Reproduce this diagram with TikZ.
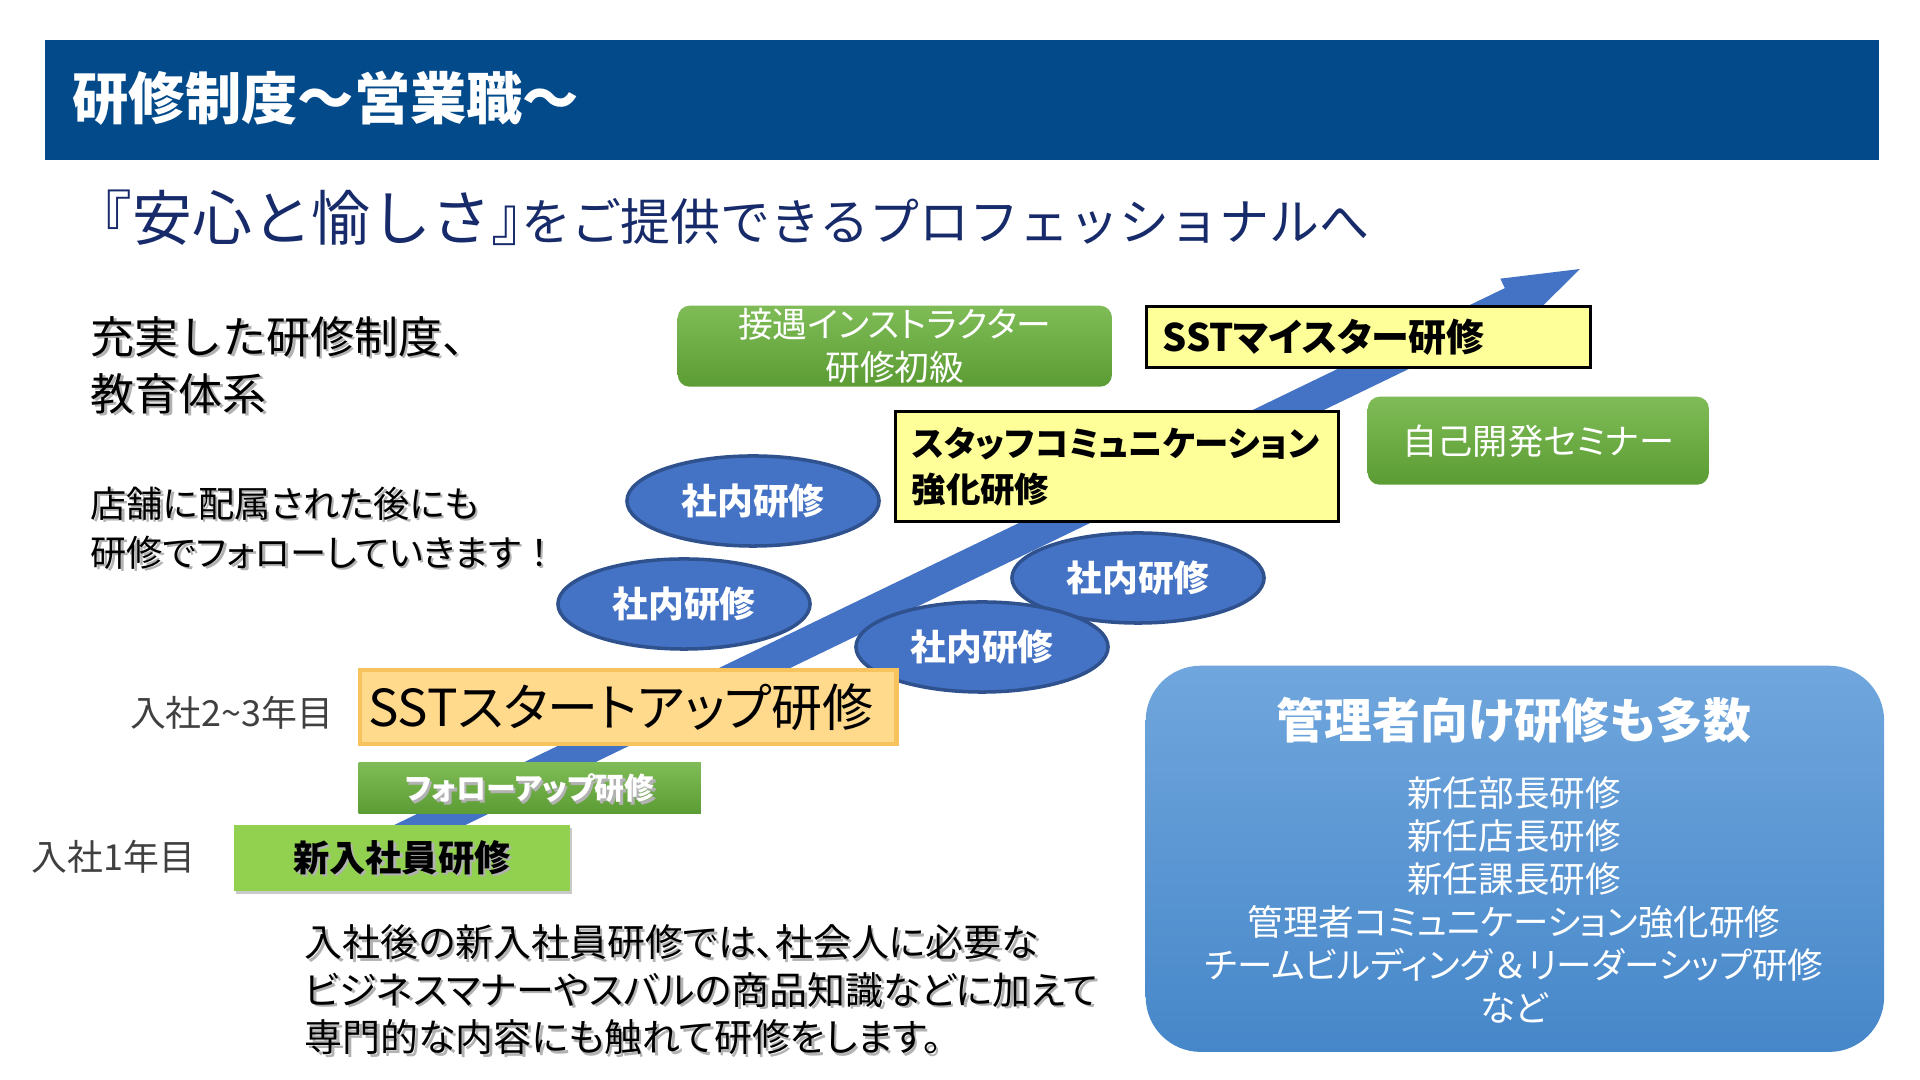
\documentclass[tikz,border=0pt]{standalone}
\usepackage{fontspec}
\setmainfont{Noto Sans CJK JP}[RawFeature=+palt]
\newfontfamily\monojp{Noto Sans CJK JP}
\usetikzlibrary{positioning,shapes.geometric,shadows}
\definecolor{bandc}{HTML}{034A8A}
\definecolor{navyc}{HTML}{172B6B}
\definecolor{arrc}{HTML}{4472C4}
\definecolor{ellc}{HTML}{4472C4}
\definecolor{elldc}{HTML}{2F528F}
\definecolor{gtopc}{HTML}{7FBC57}
\definecolor{gbotc}{HTML}{5C9C34}
\definecolor{newc}{HTML}{92D050}
\definecolor{orgc}{HTML}{FFD98C}
\definecolor{orgdc}{HTML}{F6C35C}
\definecolor{yelc}{HTML}{FFFF99}
\definecolor{mtopc}{HTML}{70A6DD}
\definecolor{mbotc}{HTML}{4687C9}
\definecolor{lblc}{HTML}{404040}
\newcommand{\fsz}[2]{\fontsize{#1}{#2}\selectfont}
\tikzset{
  txt/.style={inner sep=0pt,align=left},
  band/.style={fill=bandc,anchor=north west,inner sep=0pt},
  greenbox/.style={rounded corners=0.12cm,top color=gtopc,bottom color=gbotc,text=white,anchor=north west,inner sep=0pt,align=center},
  newbox/.style={fill=newc,anchor=north west,inner sep=0pt,drop shadow={fill=black!35,opacity=0.6,shadow xshift=0.02cm,shadow yshift=-0.03cm}},
  startbox/.style={fill=orgc,draw=orgdc,line width=1.2pt,anchor=north west,inner xsep=0.08cm,inner ysep=0pt,align=left,font=\fsz{14.5pt}{17pt}},
  ybox/.style={fill=yelc,draw=black,line width=0.9pt,anchor=north west,inner xsep=0.16cm,inner ysep=0pt,align=left,font=\bfseries\fsz{10.8pt}{13pt}},
  inhouse/.style={ellipse,draw=elldc,line width=1pt,fill=ellc,minimum width=2.52cm,minimum height=0.9cm,inner sep=0pt,text=white,font=\bfseries\fsz{10.2pt}{12pt}},
  mgrbox/.style={rounded corners=0.55cm,top color=mtopc,bottom color=mbotc,anchor=north west,inner sep=0pt},
  yearlbl/.style={txt,anchor=east,text=lblc,font=\fsz{10.2pt}{12pt}},
}
\newcommand{\shtxt}[4][]{\node[txt,#1,text=black!30,xshift=0.025cm,yshift=-0.025cm] at (#3) {#4};\node[txt,#1] (#2) at (#3) {#4};}

\begin{document}
\begin{tikzpicture}[x=0.01cm,y=-0.01cm]
  \path[use as bounding box,fill=white] (0,0) rectangle (1920,1080);
  \node[band,minimum width=18.33cm,minimum height=1.2cm] (band) at (44,39) {};
  \node[txt,anchor=west,text=white,font=\bfseries\fsz{16pt}{18pt}] (title) at (72,98) {研修制度～営業職～};
  \node[txt,anchor=base west,text=navyc] (motto) at (72,241) {\monojp\fsz{17pt}{20pt}『安心と愉しさ』\kern-0.5em\fsz{14.2pt}{17pt}をご提供できるプロフェッショナルへ};
  \shtxt[anchor=west,font=\monojp\fsz{12.5pt}{16.2pt}]{lead}{90,365}{充実した研修制度、\\教育体系}
  \shtxt[anchor=west,font=\fsz{10.3pt}{13.9pt}]{storenote}{90,528}{店舗に配属された後にも\\研修でフォローしていきます{\monojp ！}}

  \begin{scope}[shift={(1580,269)},rotate=25.8]
    \fill[arrc] (0,0) -- (-76,-26) -- (-76,-15.5) -- (-1380,-15.5) -- (-1380,15.5) -- (-76,15.5) -- (-76,26) -- cycle;
  \end{scope}

  \foreach \n/\p in {1/{753,501},2/{684,604},3/{1138,578},4/{982,647}}
    \node[inhouse] (ih\n) at (\p) {社内研修};

  \node[greenbox,minimum width=4.34cm,minimum height=0.81cm,font=\fsz{9.9pt}{12.2pt}] (instb) at (677,305) {接遇インストラクター\\研修初級};
  \node[ybox,minimum width=4.44cm,minimum height=0.61cm,text width=4.12cm] (meisb) at (1145,305) {SSTマイスター研修};
  \node[ybox,minimum width=4.43cm,minimum height=1.1cm,text width=4.11cm,font=\bfseries\fsz{9.8pt}{13pt}] (stafb) at (894,410) {スタッフコミュニケーション\\強化研修};
  \node[greenbox,minimum width=3.41cm,minimum height=0.88cm,font=\fsz{10pt}{12pt}] (selfb) at (1367,396) {自己開発セミナー};

  \node[startbox,minimum width=5.36cm,minimum height=0.74cm,text width=5.2cm] (sstb) at (358,668) {SSTスタートアップ研修};
  \node[greenbox,rounded corners=0pt,minimum width=3.42cm,minimum height=0.51cm] (folb) at (358,762) {};
  \shtxt[text=white,font=\bfseries\fsz{8.5pt}{10pt}]{folt}{folb.center}{フォローアップ研修}
  \node[newbox,minimum width=3.36cm,minimum height=0.66cm] (newb) at (233,824) {};
  \shtxt[font=\bfseries\fsz{10.3pt}{12pt}]{newt}{newb.center}{新入社員研修}
  \node[yearlbl] (yr1) at (196,857) {入社1年目};
  \node[yearlbl] (yr23) at (334,713) {入社2\textasciitilde 3年目};

  \shtxt[anchor=west,font=\fsz{10.8pt}{13.5pt}]{intro}{304,990}{入社後の新入社員研修では、社会人に必要な\\ビジネスマナーやスバルの商品知識などに加えて\\専門的な内容にも触れて研修をします。}

  \node[mgrbox,minimum width=7.38cm,minimum height=3.86cm] (mgr) at (1145,665) {};
  \node[txt,text=white,font=\bfseries\fsz{13.6pt}{16pt}] (mgrt) at (1514,720) {管理者向け研修も多数};
  \node[txt,align=center,text=white,font=\fsz{10.1pt}{12.2pt}] (mgrl) at (1514,900) {新任部長研修\\新任店長研修\\新任課長研修\\管理者コミュニケーション強化研修\\チームビルディング{\monojp ＆}リーダーシップ研修\\など};
\end{tikzpicture}
\end{document}
